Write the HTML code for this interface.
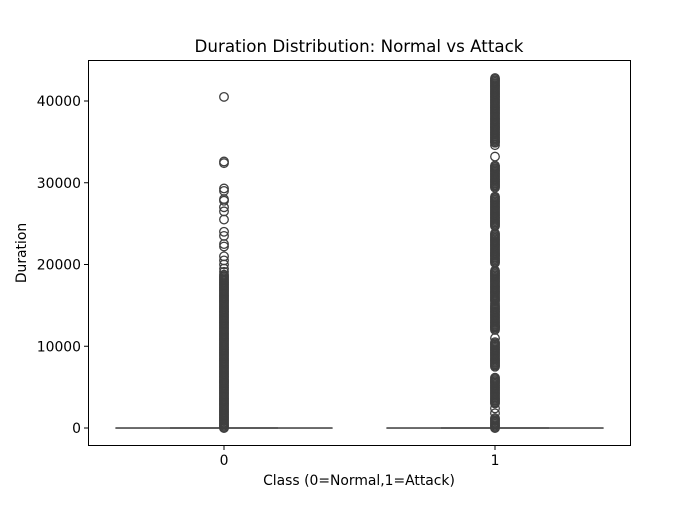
<!DOCTYPE html>
<html><head><meta charset="utf-8"><style>
body{margin:0;background:#fff}
svg text{font-family:"DejaVu Sans","Liberation Sans",sans-serif;fill:#000}
</style></head><body>
<svg id="chart" width="700" height="500">
<rect x="0" y="0" width="700" height="500" fill="#fff"/>
<g id="plot"></g>
<rect x="88.5" y="60.5" width="542" height="385" fill="none" stroke="#000" stroke-width="1"/>
<text x="359" y="52" font-size="16.7" text-anchor="middle">Duration Distribution: Normal vs Attack</text>
<text x="359" y="485" font-size="13.9" text-anchor="middle">Class (0=Normal,1=Attack)</text>
<text transform="translate(26,253) rotate(-90)" font-size="13.9" text-anchor="middle">Duration</text>
<g id="axes"></g>
</svg>
<script>
const categories = ["0","1"];
const yTicks = [0,10000,20000,30000,40000];
const quartiles = [[0,0,0,0,0],[0,0,0,0,0]]; // min,q1,median,q3,max
const denseRanges0 = [[0,18800]];
const points0 = [40500,32600,32400,29300,29000,28000,27800,27000,26500,25500,24000,23500,22500,22200,21000,20500,20000,19500,19100];
const denseRanges1 = [[0,1300],[3000,6200],[7500,10500],[12000,15000],[15500,19300],[20200,23900],[24700,28300],[29400,32200],[35000,42800]];
const points1 = [1800,2400,11000,12400,15200,33200,34600,34900];

const ns="http://www.w3.org/2000/svg";
const plot=document.getElementById('plot'), axes=document.getElementById('axes');
const yS=v=>428-v*(327/40000);
const xS=i=>224+i*271;
function mk(t,a,p){const e=document.createElementNS(ns,t);for(const k in a)e.setAttribute(k,a[k]);p.appendChild(e);return e;}
yTicks.forEach(v=>{
  const l=mk('line',{x1:84,x2:88,y1:yS(v),y2:yS(v),stroke:'#000'},axes);
  
  
  const t=mk('text',{x:81,y:yS(v)+5,'font-size':13.9,'text-anchor':'end'},axes);
  t.textContent=v;
  
  
});
categories.forEach((c,i)=>{
  const l=mk('line',{x1:xS(i),x2:xS(i),y1:445,y2:450,stroke:'#000'},axes);
  
  
  const t=mk('text',{x:xS(i),y:465,'font-size':13.9,'text-anchor':'middle'},axes);
  t.textContent=c;
  
  
});
function drawOutliers(i,ranges,pts){
  const vals=pts.slice();
  ranges.forEach(r=>{for(let v=r[0];v<=r[1];v+=150)vals.push(v);});
  vals.forEach(v=>{
    const c=mk('circle',{cx:xS(i),cy:yS(v),r:4.3,fill:'none',stroke:'#3f3f3f','stroke-width':1.3},plot);
    
    
  });
}
[[denseRanges0,points0],[denseRanges1,points1]].forEach((d,i)=>{
  const q=quartiles[i], cx=xS(i), hw=108;
  const b=mk('rect',{x:cx-hw,y:yS(q[3]),width:2*hw,height:Math.max(0.1,yS(q[1])-yS(q[3])),fill:'#3274a1',stroke:'#6a6a6a','stroke-width':1.5},plot);
  
  
  const cap=mk('line',{x1:cx-54,x2:cx+54,y1:yS(q[4]),y2:yS(q[4]),stroke:'#4a4a4a','stroke-width':1.8},plot);
  
  
  const med=mk('line',{x1:cx-hw,x2:cx+hw,y1:yS(q[2]),y2:yS(q[2]),stroke:'#5a5a5a','stroke-width':1.5},plot);
  
  
  drawOutliers(i,d[0],d[1]);
});
</script>
</body></html>
